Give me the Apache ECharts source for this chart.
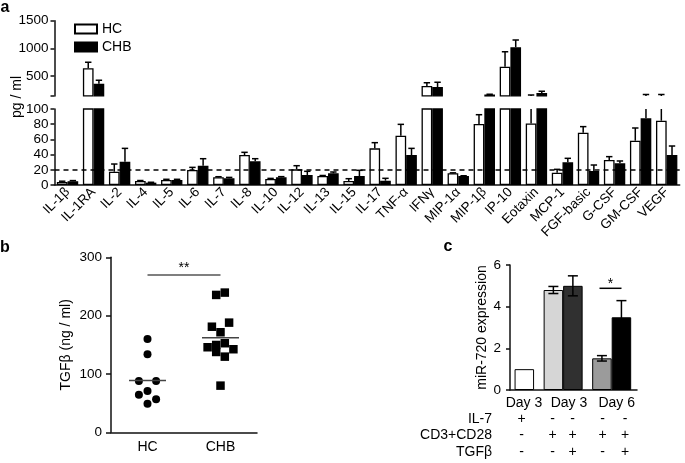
<!DOCTYPE html>
<html><head><meta charset="utf-8">
<script src="https://cdn.jsdelivr.net/npm/echarts@6/dist/echarts.min.js"></script>
<style>html,body{margin:0;padding:0;background:#fff}#chart{width:685px;height:463px}</style>
</head><body><div id="chart"></div>
<script>
// ---------- Panel a data (pg/ml, mean and upper error) ----------
const cytokines = ['IL-1β','IL-1RA','IL-2','IL-4','IL-5','IL-6','IL-7','IL-8','IL-10','IL-12','IL-13','IL-15','IL-17','TNF-α','IFNγ','MIP-1α','MIP-1β','IP-10','Eotaxin','MCP-1','FGF-basic','G-CSF','GM-CSF','VEGF'];
const hcMean  = [4, 639, 17.5, 5.3, 6.6, 19.7, 10.1, 39.5, 7.9, 20.6, 11.8, 5.3, 48.2, 64.9, 319, 15.4, 80.3, 668, 81, 16.2, 68.9, 32.9, 58.3, 84.6];
const hcErr   = [1, 109, 10.1, 0.6, 0.9, 3.5, 0.8, 3.5, 0.8, 4.8, 0.7, 3, 7.5, 14.9, 60, 0.6, 12.2, 271, 75, 4.4, 7.9, 4.4, 16.7, 80];
const chbMean = [5, 361, 30.7, 3.1, 6.6, 25.4, 8.8, 31.1, 10.1, 13.2, 15.4, 11.8, 5.7, 39.5, 301, 11.8, 165, 1019, 194, 29.8, 18.4, 28.5, 87.7, 39.5];
const chbErr  = [0.8, 61, 17.5, 0.5, 0.9, 9.2, 1.2, 3.5, 0.9, 4.8, 1.7, 7.5, 3.1, 8.7, 85, 0.4, 4, 132, 31, 5.3, 7.9, 3.1, 77, 11.8];
const thresholdA = 20;
const topTickLabels = [500, 1000, 1500];
// ---------- Panel b data (TGFβ ng/ml) ----------
const groupsB = ['HC', 'CHB'];
const hcTGF  = [160, 134, 88, 88, 71, 64.5, 56.6, 49];
const hcSlot = [0, 0, -2, 2, 0, -2, 2, 0];
const chbTGF  = [235.5, 239.5, 181, 188, 171.5, 145.8, 149.7, 137.7, 152.7, 142.4, 129.7, 80];
const chbSlot = [-1, 1, -2, 2, 0, -3, -1, -1, 1, 3, 1, 0];
const tgfMeans = [89, 162];
const sigB = 270;
// ---------- Panel c data (miR-720 expression) ----------
const cGroups = ['Day 3', 'Day 3', 'Day 6'];
const cNoTGF     = [null, 4.8, 1.52];
const cNoTGFErr  = [null, 0.17, 0.13];
const cMain      = [1.0, 5.0, 3.49];
const cMainErr   = [0, 0.48, 0.8];
const condRows = ['IL-7', 'CD3+CD28', 'TGFβ'];
const condSigns = [['+','-','-','-','-'], ['-','+','+','+','+'], ['-','-','+','-','+']];

const FONT = '"Liberation Sans", Arial, sans-serif';
const AX = {lineStyle: {color: '#111', width: 1.5}};
const chart = echarts.init(document.getElementById('chart'));

function errA(xi, yi, means, errs, side) {
  return {
    type: 'custom', xAxisIndex: xi, yAxisIndex: yi, clip: true, z: 5, silent: true,
    data: means.map((m, i) => [i, m, m + errs[i]]),
    renderItem(params, api) {
      const i = api.value(0);
      const bw = api.size([1, 0])[0] * 0.82 / 2;
      const cx = api.coord([i, 0])[0] + side * bw / 2;
      const y0 = api.coord([i, api.value(1)])[1];
      const y1 = api.coord([i, api.value(2)])[1];
      const st = {stroke: '#000', lineWidth: 1.5};
      return {type: 'group', children: [
        {type: 'line', shape: {x1: cx, y1: y0, x2: cx, y2: y1}, style: st},
        {type: 'line', shape: {x1: cx - 3.2, y1: y1, x2: cx + 3.2, y2: y1}, style: st}
      ]};
    }
  };
}
function barsA(xi, yi, name, data, color) {
  return {
    type: 'bar', name, xAxisIndex: xi, yAxisIndex: yi, data,
    barGap: '0%', barCategoryGap: '18%', silent: true,
    itemStyle: {color, borderColor: '#000', borderWidth: 1.3}
  };
}
const BW_C = 19.5;
function errC(means, errs, side) {
  const d = [];
  means.forEach((m, i) => { if (m != null && errs[i]) d.push([i, m, errs[i]]); });
  return {
    type: 'custom', xAxisIndex: 4, yAxisIndex: 4, z: 5, silent: true, data: d,
    renderItem(params, api) {
      const i = api.value(0), m = api.value(1), e = api.value(2);
      const cx = api.coord([i, 0])[0] + side * BW_C / 2;
      const yt = api.coord([i, m + e])[1], yb = api.coord([i, m - e])[1];
      const st = {stroke: '#000', lineWidth: 1.5};
      return {type: 'group', children: [
        {type: 'line', shape: {x1: cx, y1: yb, x2: cx, y2: yt}, style: st},
        {type: 'line', shape: {x1: cx - 5, y1: yt, x2: cx + 5, y2: yt}, style: st},
        {type: 'line', shape: {x1: cx - 5, y1: yb, x2: cx + 5, y2: yb}, style: st}
      ]};
    }
  };
}
const noTGFColors = [null, '#d6d6d6', '#9b9b9b'];
const mainColors = ['#ffffff', '#303030', '#000000'];

const txt = (x, y, text, extra) => ({type: 'text', x, y, silent: true,
  style: Object.assign({text, fill: '#000', font: '14px ' + FONT, align: 'center', verticalAlign: 'middle'}, extra || {})});

const graphics = [
  txt(5, 7.5, 'a', {font: 'bold 16px ' + FONT}),
  txt(5, 247.5, 'b', {font: 'bold 16px ' + FONT}),
  txt(448, 246.5, 'c', {font: 'bold 16px ' + FONT}),
  {type: 'text', x: 17, y: 97, rotation: Math.PI / 2, silent: true,
   style: {text: 'pg / ml', fill: '#000', font: '14px ' + FONT, align: 'center', verticalAlign: 'middle'}},
  txt(524, 403, cGroups[0]), txt(569, 403, cGroups[1]), txt(616.7, 403, cGroups[2]),
  {type: 'line', silent: true, shape: {x1: 599.5, y1: 288.3, x2: 621.5, y2: 288.3}, style: {stroke: '#000', lineWidth: 1.5}},
  txt(610.5, 284, '*', {font: '14px ' + FONT})
];
const rowY = [419, 435, 452];
const colX = [521.5, 552.5, 572.5, 602.5, 625];
condRows.forEach((r, ri) => {
  graphics.push(txt(492, rowY[ri], r, {align: 'right'}));
  condSigns[ri].forEach((s, ci) => graphics.push(txt(colX[ci], rowY[ri], s)));
});

const option = {
  animation: false,
  textStyle: {fontFamily: FONT, color: '#000'},
  legend: {
    data: ['HC', 'CHB'], orient: 'vertical', left: 69, top: 17, itemWidth: 22, itemHeight: 9, itemGap: 4,
    selectedMode: false, textStyle: {fontSize: 14, color: '#000', fontFamily: FONT}, icon: 'rect'
  },
  grid: [
    {left: 54.5, top: 20.7, width: 625.2, height: 75.2},
    {left: 54.5, top: 109, width: 625.2, height: 76},
    {left: 111, top: 257.3, width: 146, height: 175},
    {left: 510, top: 265, width: 127, height: 125},
    {left: 490.3, top: 265, width: 145.65, height: 125}
  ],
  xAxis: [
    {gridIndex: 0, type: 'category', data: cytokines, show: false},
    {gridIndex: 1, type: 'category', data: cytokines, axisLine: AX, axisTick: {show: false},
     axisLabel: {interval: 0, rotate: 45, fontSize: 13.5, color: '#000', margin: 5}},
    {gridIndex: 2, type: 'category', data: groupsB, axisLine: AX, axisTick: {show: false},
     axisLabel: {fontSize: 14, color: '#000', margin: 8}},
    {gridIndex: 3, type: 'category', data: cGroups, axisLine: AX, axisTick: {show: false}, axisLabel: {show: false}},
    {gridIndex: 4, type: 'category', data: cGroups, show: false}
  ],
  yAxis: [
    {gridIndex: 0, type: 'value', min: 140, max: 1500, splitLine: {show: false},
     axisLine: Object.assign({show: true}, AX),
     axisTick: {show: true, length: 4, lineStyle: {width: 1.5, color: '#111'}, customValues: [140].concat(topTickLabels)},
     axisLabel: {fontSize: 13.5, color: '#000', margin: 6, customValues: topTickLabels, formatter: v => String(v)}},
    {gridIndex: 1, type: 'value', min: 0, max: 100, interval: 20, splitLine: {show: false},
     axisLine: Object.assign({show: true}, AX),
     axisTick: {show: true, length: 4, lineStyle: {width: 1.5, color: '#111'}},
     axisLabel: {fontSize: 13.5, color: '#000', margin: 6}},
    {gridIndex: 2, type: 'value', min: 0, max: 300, interval: 100, splitLine: {show: false},
     axisLine: Object.assign({show: true}, AX),
     axisTick: {show: true, length: 5, lineStyle: {width: 1.5, color: '#111'}},
     axisLabel: {fontSize: 13.5, color: '#000', margin: 9},
     name: 'TGFβ (ng / ml)', nameLocation: 'middle', nameGap: 38, nameTextStyle: {fontSize: 14, color: '#000'}},
    {gridIndex: 3, type: 'value', min: 0, max: 6, interval: 2, splitLine: {show: false},
     axisLine: Object.assign({show: true}, AX),
     axisTick: {show: true, length: 4, lineStyle: {width: 1.5, color: '#111'}},
     axisLabel: {fontSize: 13.5, color: '#000', margin: 9},
     name: 'miR-720 expression', nameLocation: 'middle', nameGap: 20, nameTextStyle: {fontSize: 14, color: '#000'}},
    {gridIndex: 4, type: 'value', min: 0, max: 6, show: false}
  ],
  series: [
    barsA(0, 0, 'HC', hcMean, '#fff'),
    barsA(0, 0, 'CHB', chbMean, '#000'),
    barsA(1, 1, 'HC', hcMean, '#fff'),
    Object.assign(barsA(1, 1, 'CHB', chbMean, '#000'), {
      markLine: {silent: true, symbol: ['none', 'none'], label: {show: false}, z: 10,
        lineStyle: {type: [5, 4], width: 1.5, color: '#000'}, data: [{yAxis: thresholdA}]}
    }),
    errA(0, 0, hcMean, hcErr, -1), errA(0, 0, chbMean, chbErr, 1),
    errA(1, 1, hcMean, hcErr, -1), errA(1, 1, chbMean, chbErr, 1),
    // panel b
    {type: 'scatter', xAxisIndex: 2, yAxisIndex: 2, symbol: 'circle', symbolSize: 8, silent: true,
     itemStyle: {color: '#000', opacity: 1},
     data: hcTGF.map((v, i) => ({value: [groupsB[0], v], symbolOffset: [hcSlot[i] * 4.3, 0]})),
     markLine: {silent: true, symbol: ['none', 'none'], lineStyle: {type: 'solid', color: '#555', width: 1.5},
       label: {show: true, position: 'insideMiddleTop', formatter: '**', fontSize: 14, color: '#000', distance: 0},
       data: [[{coord: [groupsB[0], sigB]}, {coord: [groupsB[1], sigB]}]]}},
    {type: 'scatter', xAxisIndex: 2, yAxisIndex: 2, symbol: 'rect', symbolSize: 8.5, silent: true,
     itemStyle: {color: '#000', opacity: 1},
     data: chbTGF.map((v, i) => ({value: [groupsB[1], v], symbolOffset: [chbSlot[i] * 4.3, 0]}))},
    {type: 'custom', xAxisIndex: 2, yAxisIndex: 2, silent: true, z: 5,
     data: tgfMeans.map((m, i) => [i, m]),
     renderItem(params, api) {
       const p = api.coord([api.value(0), api.value(1)]);
       return {type: 'line', shape: {x1: p[0] - 18.5, y1: p[1], x2: p[0] + 18.5, y2: p[1]}, style: {stroke: '#444', lineWidth: 1.5}};
     }},
    // panel c
    {type: 'bar', xAxisIndex: 4, yAxisIndex: 4, barWidth: BW_C, barGap: '0%', silent: true,
     data: cNoTGF.map((v, i) => v == null ? '-' : {value: v, itemStyle: {color: noTGFColors[i]}}),
     itemStyle: {borderColor: '#000', borderWidth: 1}},
    {type: 'bar', xAxisIndex: 4, yAxisIndex: 4, barWidth: BW_C, barGap: '0%', silent: true,
     data: cMain.map((v, i) => ({value: v, itemStyle: {color: mainColors[i]}})),
     itemStyle: {borderColor: '#000', borderWidth: 1}},
    errC(cNoTGF, cNoTGFErr, -1), errC(cMain, cMainErr, 1)
  ],
  graphic: graphics
};
chart.setOption(option);
</script>
</body></html>
